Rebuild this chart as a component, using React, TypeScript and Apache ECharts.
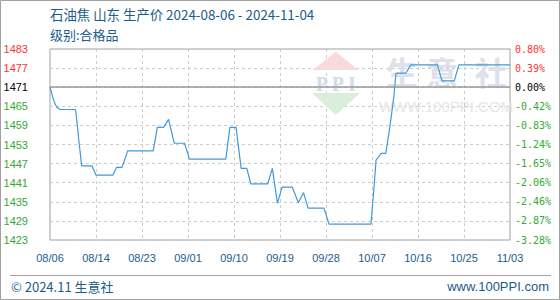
import React, { useEffect, useRef } from 'react';
import * as echarts from 'echarts';

const titleText = '石油焦 山东 生产价 2024-08-06 - 2024-11-04';
const subTitleText = '级别:合格品';
const footerLeft = '© 2024.11 生意社';
const footerRight = 'www.100PPI.com';

const xLabels = ['08/06', '08/14', '08/23', '09/01', '09/10', '09/19', '09/28', '10/07', '10/16', '10/25', '11/03'];
const leftLabels = ['1423', '1429', '1435', '1441', '1447', '1453', '1459', '1465', '1471', '1477', '1483'];
const rightLabels = ['-3.28%', '-2.87%', '-2.46%', '-2.06%', '-1.65%', '-1.24%', '-0.83%', '-0.42%', '0.00%', '0.39%', '0.80%'];
const baseValue = 1471;
const yMin = 1423;
const yMax = 1483;

// day index since 2024-08-06 (axis spans 90 days)
const dayIdx = [0, 0.6, 1.0, 1.4, 2.0, 5.0, 5.3, 5.7, 6.2, 8.2, 9.0, 12.3, 13.0, 14.1, 15.2, 20.2, 21.0, 22.2, 23.2, 24.3, 26.3, 27.3, 34.4, 35.2, 36.4, 37.4, 38.5, 39.3, 42.6, 43.5, 44.5, 45.4, 47.4, 48.6, 49.6, 50.5, 53.6, 54.6, 62.8, 63.3, 63.8, 64.8, 65.7, 66.5, 67.2, 67.7, 69.6, 70.6, 75.8, 76.7, 79.1, 80.0, 90];
const prices = [1471, 1467.5, 1465.7, 1464.6, 1464, 1464, 1459.7, 1453.4, 1446.3, 1446.3, 1443.4, 1443.4, 1445.8, 1445.8, 1451, 1451, 1458.4, 1458.4, 1460.9, 1453.4, 1453.4, 1448.4, 1448.4, 1458.4, 1458.4, 1445.5, 1445.5, 1440.6, 1440.6, 1445.5, 1434.5, 1439.6, 1439.6, 1434.7, 1437.9, 1433, 1433, 1428, 1428, 1437.7, 1448.1, 1450.2, 1450.2, 1458.6, 1467, 1475.4, 1475.4, 1478, 1478, 1473, 1473, 1478, 1478];

const RED = '#ff3333';
const GREEN = '#33aa33';
const BLACK = '#000000';
const BLUE_TEXT = '#1a5c8c';

function labelColor(v: number) {
  const i = Math.round(v);
  if (i > 8) return RED;
  if (i === 8) return BLACK;
  return GREEN;
}

export default function App() {
  const ref = useRef<HTMLDivElement>(null);
  useEffect(() => {
    document.body.style.margin = '0';
    if (!ref.current) return;
    const chart = echarts.init(ref.current, null, { renderer: 'svg' });
    const seriesData = dayIdx.map((d, i) => [d, prices[i]]);
    chart.setOption({
      animation: false,
      grid: {
        left: 50, right: 50, top: 49, bottom: 60,
        show: true, borderColor: '#a0a0a0', borderWidth: 1, backgroundColor: 'transparent',
      },
      xAxis: {
        type: 'value', min: 0, max: 90, interval: 9,
        axisLine: { show: false }, axisTick: { show: false },
        splitLine: { show: true, lineStyle: { color: '#cccccc', type: [3, 3], width: 1 } },
        axisLabel: {
          formatter: (v: number) => xLabels[Math.round(v / 9)] ?? '',
          color: BLUE_TEXT, fontSize: 11, fontFamily: 'Liberation Sans', margin: 12,
        },
      },
      yAxis: [
        { type: 'value', min: yMin, max: yMax, show: false },
        {
          type: 'value', position: 'left', min: 0, max: 10, interval: 1,
          axisLine: { show: false }, axisTick: { show: false },
          splitLine: { show: true, lineStyle: { color: '#cccccc', type: [3, 3], width: 1 } },
          axisLabel: {
            formatter: (v: number) => leftLabels[Math.round(v)] ?? '',
            color: (v: number) => labelColor(v),
            fontSize: 11, fontFamily: 'Liberation Sans', margin: 22, align: 'right',
          },
        },
        {
          type: 'value', position: 'right', min: 0, max: 10, interval: 1,
          axisLine: { show: false }, axisTick: { show: false }, splitLine: { show: false },
          axisLabel: {
            formatter: (v: number) => rightLabels[Math.round(v)] ?? '',
            color: (v: number) => labelColor(v),
            fontSize: 10, fontFamily: 'DejaVu Sans Mono', margin: 5, align: 'left',
          },
        },
      ],
      graphic: [
        { type: 'rect', z: 0, silent: true, shape: { x: 0.5, y: 0.5, width: 559, height: 299 }, style: { fill: 'none', stroke: '#a0a0a0', lineWidth: 1 } },
        { type: 'text', x: 50, y: 14, style: { text: titleText, fill: BLUE_TEXT, font: '13.4px "Noto Sans CJK SC"', textVerticalAlign: 'middle' } },
        { type: 'text', x: 50, y: 34, style: { text: subTitleText, fill: BLUE_TEXT, font: '13px "Noto Sans CJK SC"', textVerticalAlign: 'middle' } },
        { type: 'line', silent: true, shape: { x1: 10, y1: 275.5, x2: 551, y2: 275.5 }, style: { stroke: '#a0a0a0', lineWidth: 1 } },
        { type: 'text', x: 11, y: 286, style: { text: footerLeft, fill: BLUE_TEXT, font: '13px "Noto Sans CJK SC"', textVerticalAlign: 'middle' } },
        { type: 'text', x: 549, y: 286, style: { text: footerRight, fill: BLUE_TEXT, font: '13px "Liberation Sans"', textAlign: 'right', textVerticalAlign: 'middle' } },
        // watermark
        { type: 'polygon', z: 1, silent: true, shape: { points: [[335.7, 51.7], [313, 70], [358, 70]] }, style: { fill: '#f9d9d9' } },
        { type: 'text', z: 1, silent: true, x: 335.7, y: 83.5, style: { text: 'P P I', fill: '#d3dbea', font: 'bold 20px "Liberation Serif"', textAlign: 'center', textVerticalAlign: 'middle' } },
        { type: 'polygon', z: 1, silent: true, shape: { points: [[312, 93], [360, 93], [335.7, 115]] }, style: { fill: '#d9efd9' } },
        { type: 'text', z: 1, silent: true, x: 402, y: 71, style: { text: '生', fill: '#dde1eb', font: 'bold 32px "Noto Sans CJK SC"', textAlign: 'center', textVerticalAlign: 'middle' } },
        { type: 'text', z: 1, silent: true, x: 442, y: 71, style: { text: '意', fill: '#dde1eb', font: 'bold 32px "Noto Sans CJK SC"', textAlign: 'center', textVerticalAlign: 'middle' } },
        { type: 'text', z: 1, silent: true, x: 491, y: 71, style: { text: '社', fill: '#dde1eb', font: 'bold 32px "Noto Sans CJK SC"', textAlign: 'center', textVerticalAlign: 'middle' } },
        { type: 'text', z: 1, silent: true, x: 446, y: 106, style: { text: 'WWW.100PPI.COM', fill: '#e6e6e6', font: '15px "Liberation Sans"', textAlign: 'center', textVerticalAlign: 'middle' } },
      ],
      series: [
        {
          type: 'line', xAxisIndex: 0, yAxisIndex: 0, data: seriesData,
          showSymbol: false, symbol: 'none', z: 3,
          lineStyle: { color: '#3f9ad8', width: 1.2 },
          markLine: {
            silent: true, symbol: 'none', label: { show: false },
            lineStyle: { color: '#999999', type: 'solid', width: 1.5 },
            data: [{ yAxis: baseValue }],
          },
        },
      ],
    });
    return () => chart.dispose();
  }, []);
  return <div ref={ref} style={{ width: 560, height: 300 }} />;
}
